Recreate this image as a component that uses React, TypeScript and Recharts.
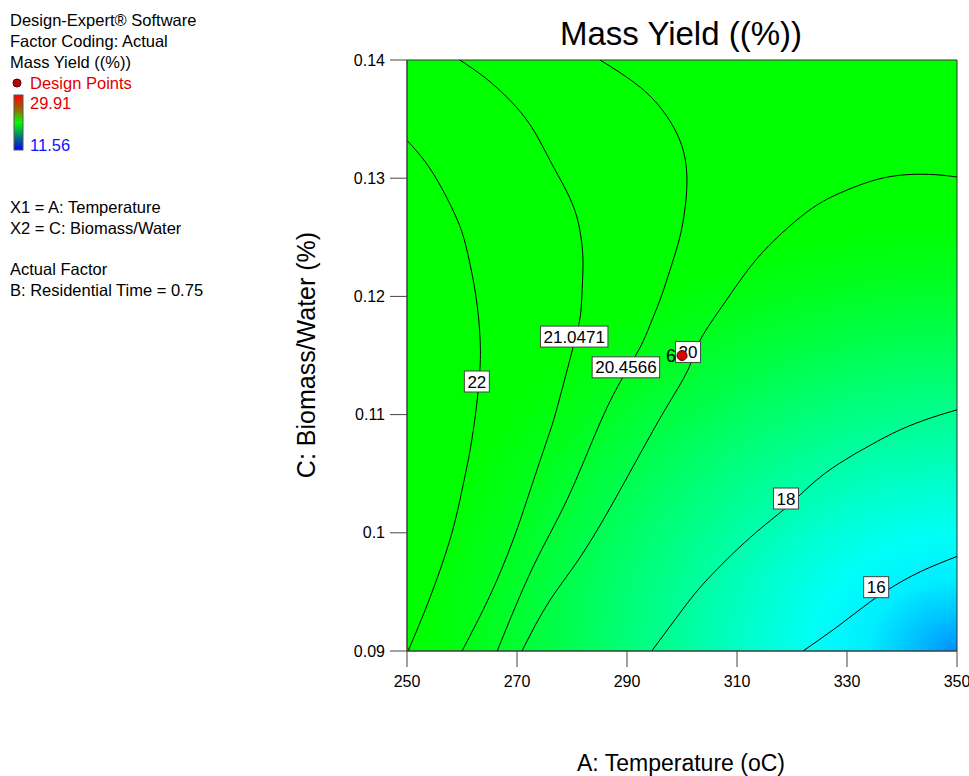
import { ComposedChart, Line, XAxis, YAxis, ReferenceArea, ReferenceDot } from 'recharts';

const FONT = '"Liberation Sans", Arial, sans-serif';

// axis ticks
const X_TICKS = [250, 270, 290, 310, 330, 350];
const Y_TICKS = [0.09, 0.1, 0.11, 0.12, 0.13, 0.14];

// contour lines, [temperature, biomass/water] pairs
const LEVEL_22 = [
  [250, 0.1332], [253.3, 0.1314], [256.5, 0.129], [259.3, 0.1263], [260.9, 0.1239], [262.5, 0.1201],
  [263.3, 0.1163], [263.1, 0.1128], [261.8, 0.1079], [260, 0.1036], [257.8, 0.0994], [254, 0.0943], [250.2, 0.09],
];
const LEVEL_21_0471 = [
  [259.6, 0.14], [264.2, 0.1385], [268.7, 0.1366], [272.7, 0.1343], [276, 0.1315], [278.9, 0.129],
  [280.9, 0.1267], [281.8, 0.1244], [282, 0.1225], [281.8, 0.1201], [281.5, 0.1183], [280.2, 0.1157],
  [277.3, 0.1106], [275.5, 0.1079], [272.4, 0.1036], [269.3, 0.0994], [265.1, 0.0947], [260, 0.09],
];
const LEVEL_20_4566 = [
  [285.1, 0.14], [292.4, 0.1377], [297.3, 0.1352], [300.2, 0.1324], [300.9, 0.1296], [300.5, 0.1273],
  [299.6, 0.125], [297.8, 0.1222], [296, 0.1197], [294.2, 0.1176], [292.4, 0.1157], [289.3, 0.1132],
  [285.1, 0.1093], [279.1, 0.1028], [272.9, 0.0971], [266.4, 0.09],
];
const LEVEL_20 = [
  [270.9, 0.09], [276, 0.0943], [282.7, 0.0988], [291.1, 0.1056], [296.9, 0.1104], [301.1, 0.1138],
  [303.3, 0.1163], [307.8, 0.1195], [312.4, 0.1225], [316.9, 0.1248], [321.5, 0.1267], [325.5, 0.128],
  [330, 0.129], [335.5, 0.1299], [340.9, 0.1303], [346, 0.1303], [350, 0.1301],
];
const LEVEL_18 = [
  [294.5, 0.09], [299.6, 0.0932], [304.5, 0.096], [312.4, 0.0996], [319.1, 0.1022], [323.8, 0.1042],
  [328.7, 0.1059], [334.2, 0.1074], [339.6, 0.1087], [345.1, 0.1097], [350, 0.1104],
];
const LEVEL_16 = [
  [322, 0.09], [327.5, 0.0918], [332.9, 0.0937], [337.5, 0.0952], [343.3, 0.0967], [350, 0.098],
];
const CONTOURS = [LEVEL_22, LEVEL_21_0471, LEVEL_20_4566, LEVEL_20, LEVEL_18, LEVEL_16];

// contour value labels
const CONTOUR_LABELS = [
  { text: '22', x: 262.7, y: 0.1128 },
  { text: '21.0471', x: 280.4, y: 0.1166 },
  { text: '20.4566', x: 289.8, y: 0.114 },
  { text: '20', x: 301.1, y: 0.1153 },
  { text: '18', x: 318.9, y: 0.1029 },
  { text: '16', x: 335.3, y: 0.0954 },
];

// design point
const DESIGN_POINTS = [{ x: 300, y: 0.115, count: '6' }];

const INFO_LINES = [
  { text: 'Design-Expert® Software', y: 26 },
  { text: 'Factor Coding: Actual', y: 47 },
  { text: 'Mass Yield ((%))', y: 68 },
  { text: 'X1 = A: Temperature', y: 213 },
  { text: 'X2 = C: Biomass/Water', y: 234 },
  { text: 'Actual Factor', y: 275 },
  { text: 'B: Residential Time = 0.75', y: 296 },
];

function LabelBox({ cx, cy, text }: { cx: number; cy: number; text: string }) {
  const w = 8.5 * text.length + 8;
  const h = 21;
  return (
    <g>
      <rect x={cx - w / 2} y={cy - h / 2} width={w} height={h} fill="#ffffff" stroke="#444" strokeWidth={1} />
      <text x={cx} y={cy + 6} textAnchor="middle" fontSize={17} fontFamily={FONT} fill="#000">
        {text}
      </text>
    </g>
  );
}

function DesignDot({ cx, cy, count }: { cx: number; cy: number; count: string }) {
  return (
    <g>
      <text x={cx - 6} y={cy + 6} textAnchor="end" fontSize={18} fontFamily={FONT} fill="#000">
        {count}
      </text>
      <circle cx={cx} cy={cy} r={5} fill="#dd0000" stroke="#550000" strokeWidth={1} />
    </g>
  );
}

export default function App() {
  return (
    <div style={{ position: 'absolute', left: 0, top: 0, width: 969, height: 776, background: '#fff' }}>
      <ComposedChart width={969} height={776} margin={{ top: 60, right: 12, bottom: 65, left: 0 }}>
        <defs>
          <radialGradient
            id="fieldGrad"
            cx="1"
            cy="1"
            r="1"
            gradientUnits="objectBoundingBox"
            gradientTransform="translate(1,1) scale(1.09,0.81) translate(-1,-1)"
          >
            <stop offset="0" stopColor="#0090ff" />
            <stop offset="0.07" stopColor="#00c0ff" />
            <stop offset="0.15" stopColor="#00eeff" />
            <stop offset="0.24" stopColor="#00fff8" />
            <stop offset="0.34" stopColor="#00ffd0" />
            <stop offset="0.45" stopColor="#00ffa0" />
            <stop offset="0.55" stopColor="#00ff78" />
            <stop offset="0.65" stopColor="#00ff50" />
            <stop offset="0.78" stopColor="#00ff20" />
            <stop offset="0.9" stopColor="#00ff00" />
          </radialGradient>
        </defs>
        <XAxis
          type="number"
          dataKey="x"
          domain={[250, 350]}
          ticks={X_TICKS}
          allowDataOverflow
          height={60}
          tickSize={16}
          tickMargin={9}
          stroke="#444"
          tick={{ fill: '#000', fontSize: 16, fontFamily: FONT }}
        />
        <YAxis
          type="number"
          dataKey="y"
          domain={[0.09, 0.14]}
          ticks={Y_TICKS}
          allowDataOverflow
          width={407}
          tickSize={17}
          tickMargin={5}
          stroke="#444"
          tickFormatter={(v: number) => String(+v.toFixed(2))}
          tick={{ fill: '#000', fontSize: 16, fontFamily: FONT }}
        />
        <ReferenceArea x1={250} x2={350} y1={0.09} y2={0.14} fill="url(#fieldGrad)" fillOpacity={1} stroke="#333" strokeWidth={1} />
        {CONTOURS.map((pts, i) => (
          <Line
            key={`c-${i}`}
            data={pts.map(([x, y]) => ({ x, y }))}
            dataKey="y"
            type="natural"
            stroke="#000"
            strokeWidth={1}
            dot={false}
            activeDot={false}
            isAnimationActive={false}
          />
        ))}
        {CONTOUR_LABELS.map((l) => (
          <ReferenceDot
            key={l.text}
            x={l.x}
            y={l.y}
            r={1}
            shape={(p: any) => <LabelBox cx={p.cx} cy={p.cy} text={l.text} />}
          />
        ))}
        {DESIGN_POINTS.map((d, i) => (
          <ReferenceDot
            key={`d-${i}`}
            x={d.x}
            y={d.y}
            r={5}
            shape={(p: any) => <DesignDot cx={p.cx} cy={p.cy} count={d.count} />}
          />
        ))}
      </ComposedChart>
      <svg width={969} height={776} style={{ position: 'absolute', left: 0, top: 0, pointerEvents: 'none' }}>
        <defs>
          <linearGradient id="barGrad" x1="0" y1="0" x2="0" y2="1">
            <stop offset="0" stopColor="#ff0000" />
            <stop offset="0.25" stopColor="#a06000" />
            <stop offset="0.5" stopColor="#00ff00" />
            <stop offset="0.75" stopColor="#008070" />
            <stop offset="1" stopColor="#0000ff" />
          </linearGradient>
        </defs>
        {INFO_LINES.map((l) => (
          <text key={l.text} x={10} y={l.y} fontSize={16.5} fontFamily={FONT} fill="#000">
            {l.text}
          </text>
        ))}
        <circle cx={17} cy={83} r={4} fill="#c00000" stroke="#400000" />
        <text x={30} y={89} fontSize={16.5} fontFamily={FONT} fill="#e00000">Design Points</text>
        <rect x={14} y={95} width={9} height={55} fill="url(#barGrad)" stroke="#555" />
        <text x={30} y={109} fontSize={16.5} fontFamily={FONT} fill="#e00000">29.91</text>
        <text x={30} y={151} fontSize={16.5} fontFamily={FONT} fill="#1010ff">11.56</text>
        <text x={681} y={45} textAnchor="middle" fontSize={33} fontFamily={FONT} fill="#000">
          Mass Yield ((%))
        </text>
        <text x={681} y={771} textAnchor="middle" fontSize={23} fontFamily={FONT} fill="#000">
          A: Temperature (oC)
        </text>
        <text transform="translate(315,355) rotate(-90)" textAnchor="middle" fontSize={25} fontFamily={FONT} fill="#000">
          C: Biomass/Water (%)
        </text>
      </svg>
    </div>
  );
}
